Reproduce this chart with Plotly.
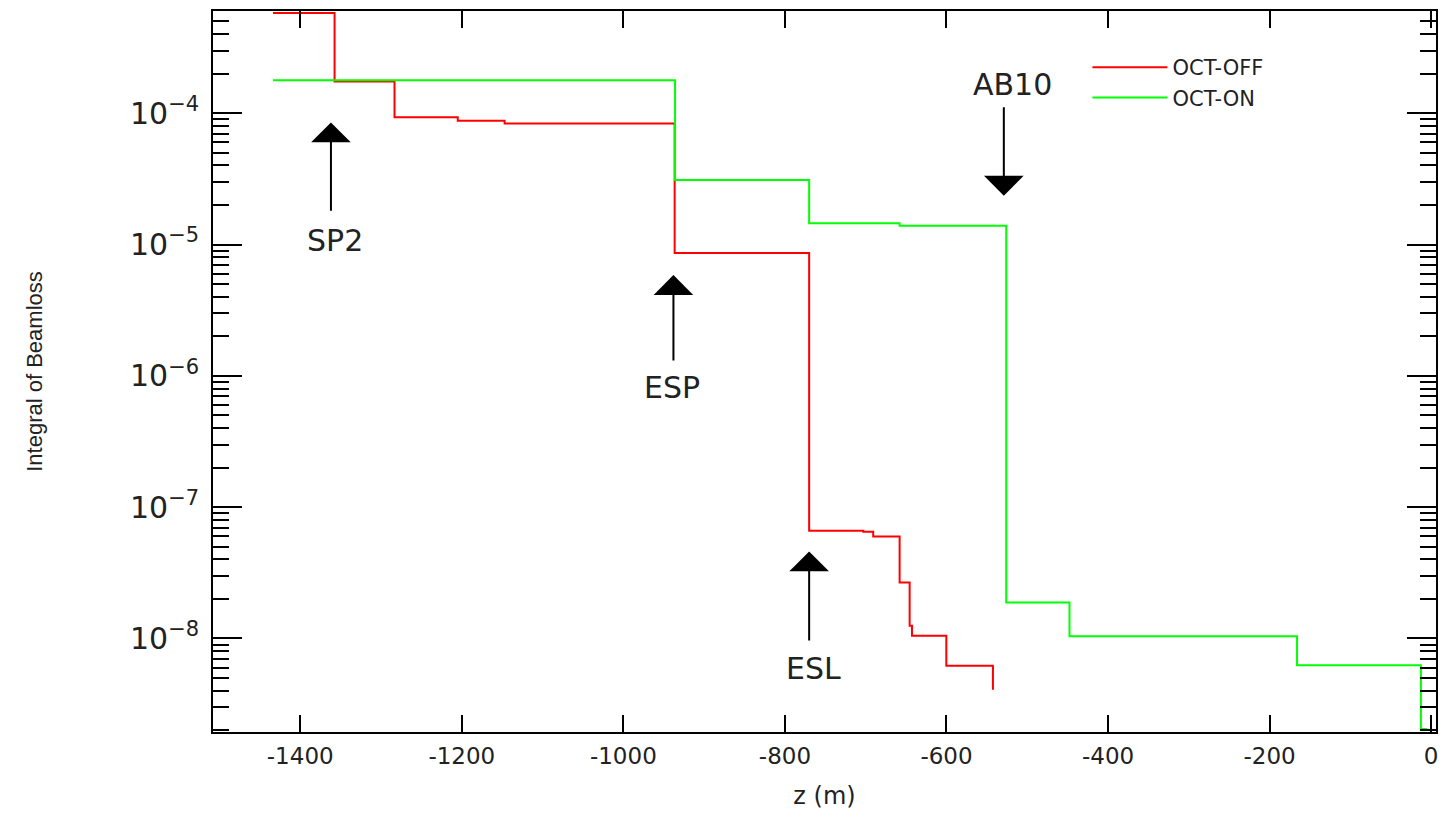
import plotly.graph_objects as go

# ---- data ----
z_off = [-1433.7, -1357.5, -1283.3, -1205.0, -1147.0, -936.5, -770.0, -703.0,
         -690.7, -658.0, -645.6, -642.7, -600.2, -542.5]
loss_off = [5.8e-4, 1.74e-4, 9.3e-5, 8.75e-5, 8.35e-5, 8.63e-6, 6.62e-8, 6.49e-8,
            5.97e-8, 2.67e-8, 1.25e-8, 1.05e-8, 6.2e-9, 4.08e-9]

z_on = [-1433.7, -936.0, -770.0, -658.0, -526.0, -447.7, -166.0, -12.7, -5.0]
loss_on = [1.78e-4, 3.1e-5, 1.45e-5, 1.39e-5, 1.88e-8, 1.04e-8, 6.25e-9, 2.05e-9, 2.05e-9]

# markers: label, z position, arrow tip (log10), arrow tail (log10), label position (log10)
marker_names = ["SP2", "ESP", "ESL", "AB10"]
marker_z = [-1362, -938, -770, -529]
marker_tip = [-4.071, -5.233, -7.338, -4.628]
marker_tail = [-4.755, -5.894, -8.027, -3.944]
marker_label_z = [-1357, -940, -765, -518]
marker_label_y = [-4.969, -6.085, -8.228, -3.782]

x_ticks = [-1400, -1200, -1000, -800, -600, -400, -200, 0]
x_tick_text = ["-1400", "-1200", "-1000", "-800", "-600", "-400", "-200", "0"]

fig = go.Figure()
fig.add_trace(go.Scatter(x=z_off, y=loss_off, mode="lines", name="OCT-OFF",
                         line=dict(color="#ff0000", width=2, shape="hv")))
fig.add_trace(go.Scatter(x=z_on, y=loss_on, mode="lines", name="OCT-ON",
                         line=dict(color="#00ff00", width=2, shape="hv")))

for name, zx, tip, tail, lz, ly in zip(marker_names, marker_z, marker_tip, marker_tail,
                                      marker_label_z, marker_label_y):
    fig.add_annotation(x=zx, y=tip, ax=zx, ay=tail, xref="x", yref="y",
                       axref="x", ayref="y", text="", showarrow=True,
                       arrowhead=1, arrowsize=3.3, arrowwidth=2, arrowcolor="black")
    fig.add_annotation(x=lz, y=ly, xref="x", yref="y", text=name, showarrow=False,
                       font=dict(family="DejaVu Sans", size=30, color="#222222"))

fig.update_xaxes(range=[-1508, 6], tickvals=x_ticks, ticktext=x_tick_text,
                 ticks="inside", ticklen=17, ticklabelstandoff=2,
                 tickwidth=2, tickcolor="black", showline=True, linewidth=2,
                 linecolor="black", mirror="ticks", showgrid=False, zeroline=False,
                 title=dict(text="z (m)", standoff=20,
                            font=dict(family="DejaVu Sans", size=24, color="#222")),
                 tickfont=dict(family="DejaVu Sans", size=23, color="#222"))
fig.update_yaxes(type="log", range=[-8.712, -3.222], dtick=1, exponentformat="power",
                 ticks="inside", ticklen=29, tickwidth=2, tickcolor="black",
                 ticklabelstandoff=7,
                 minor=dict(ticks="inside", ticklen=16, tickwidth=2, tickcolor="black",
                            dtick="D1", showgrid=False),
                 showline=True, linewidth=2, linecolor="black", mirror="ticks",
                 showgrid=False, zeroline=False,
                 title=dict(text="Integral of Beamloss", standoff=81,
                            font=dict(family="Liberation Sans Narrow, Liberation Sans", size=22, color="#222")),
                 tickfont=dict(family="DejaVu Sans", size=24, color="#222"))

fig.update_layout(width=1431, height=802, plot_bgcolor="white", paper_bgcolor="white",
                  margin=dict(l=205, r=2, t=1, b=78),
                  legend=dict(x=0.715, y=0.95, xanchor="left", yanchor="top",
                              bgcolor="rgba(0,0,0,0)", font=dict(family="DejaVu Sans", size=21, color="#222"),
                              tracegroupgap=0, itemwidth=75))

fig.write_html("out.html")
